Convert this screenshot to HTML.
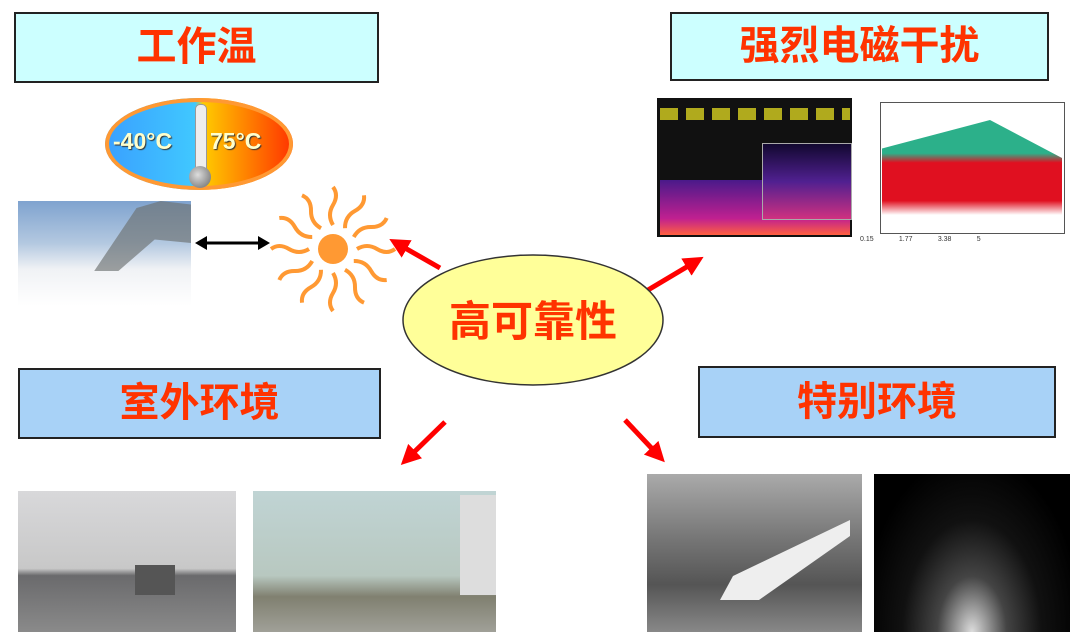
<!DOCTYPE html>
<html><head><meta charset="utf-8"><style>
body{margin:0;width:1080px;height:639px;background:#fff;position:relative;overflow:hidden;font-family:"Liberation Sans","Noto Sans CJK SC",sans-serif}
.a{position:absolute}
.box{position:absolute;border:2px solid #222;box-sizing:border-box;color:#ff3300;font-weight:bold;font-size:40px;text-align:center;font-family:"Liberation Sans","Noto Sans CJK SC",sans-serif}
</style></head><body>
<div class="box" style="left:14px;top:12px;width:365px;height:71px;background:#ccffff;line-height:67px">工作温</div>
<div class="box" style="left:670px;top:12px;width:379px;height:69px;background:#ccffff;line-height:65px">强烈电磁干扰</div>
<div class="box" style="left:18px;top:368px;width:363px;height:71px;background:#a8d2f7;line-height:67px">室外环境</div>
<div class="box" style="left:698px;top:366px;width:358px;height:72px;background:#a8d2f7;line-height:68px">特别环境</div>

<div class="a" style="left:105px;top:98px;width:188px;height:92px;border-radius:50%;background:linear-gradient(90deg,#3aa0ff 0%,#40c8ff 48%,#ffcc00 52%,#ff3300 100%);box-shadow:0 0 0 4px #ff9933 inset"></div>
<div class="a" style="left:113px;top:128px;font-weight:bold;font-size:23px;color:#ffffcc;text-shadow:1px 1px 1px #333">-40°C</div>
<div class="a" style="left:210px;top:128px;font-weight:bold;font-size:23px;color:#ffffcc;text-shadow:1px 1px 1px #333">75°C</div>
<div class="a" style="left:195px;top:104px;width:10px;height:70px;background:#eee;border:1px solid #999;border-radius:5px"></div>
<div class="a" style="left:189px;top:166px;width:22px;height:22px;background:radial-gradient(circle at 40% 40%,#ddd,#666);border-radius:50%"></div>

<div class="a" style="left:18px;top:201px;width:173px;height:105px;background:linear-gradient(180deg,#7fa3cf 0%,#b3c8e0 40%,#f0f2f5 65%,#fff 100%)"></div>
<div class="a" style="left:70px;top:201px;width:121px;height:70px;background:#6c7070;clip-path:polygon(20% 100%,55% 10%,75% 0,100% 5%,100% 60%,70% 55%,40% 100%);opacity:.65"></div>

<svg class="a" style="left:0;top:0" width="1080" height="639">
<defs><marker id="r" markerWidth="4" markerHeight="4" refX="2" refY="2" orient="auto"><path d="M0,0L4,2L0,4z" fill="#f00"/></marker></defs>
<line x1="205" y1="243" x2="260" y2="243" stroke="#000" stroke-width="3"/>
<path d="M195,243L207,236L207,250z M270,243L258,236L258,250z" fill="#000"/>
<g stroke="#ff0000" stroke-width="5" marker-end="url(#r)">
<line x1="440" y1="268" x2="398" y2="244"/>
<line x1="648" y1="290" x2="695" y2="262"/>
<line x1="445" y1="422" x2="408" y2="458"/>
<line x1="625" y1="420" x2="658" y2="455"/>
</g>
<g fill="none" stroke="#ff9933" stroke-width="4">
<circle cx="333" cy="249" r="15" fill="#ff9933" stroke="none"/>
<g id="rays"><path d="M333,225 q-6,-10 0,-20 q6,-10 0,-18"/></g>
<use href="#rays" transform="rotate(30 333 249)"/><use href="#rays" transform="rotate(60 333 249)"/><use href="#rays" transform="rotate(90 333 249)"/><use href="#rays" transform="rotate(120 333 249)"/><use href="#rays" transform="rotate(150 333 249)"/><use href="#rays" transform="rotate(180 333 249)"/><use href="#rays" transform="rotate(210 333 249)"/><use href="#rays" transform="rotate(240 333 249)"/><use href="#rays" transform="rotate(270 333 249)"/><use href="#rays" transform="rotate(300 333 249)"/><use href="#rays" transform="rotate(330 333 249)"/>
</g>
<ellipse cx="533" cy="320" rx="130" ry="65" fill="#ffff99" stroke="#333" stroke-width="1.5"/>
<text x="533" y="336" text-anchor="middle" font-size="42" font-weight="bold" fill="#ff3300" font-family="Liberation Sans,Noto Sans CJK SC,sans-serif">高可靠性</text>
</svg>

<div class="a" style="left:657px;top:98px;width:195px;height:139px;background:#111"></div>
<div class="a" style="left:660px;top:108px;width:190px;height:30px;background:repeating-linear-gradient(90deg,#d8d020 0 18px,#111 18px 26px);opacity:.8;clip-path:inset(0 0 60% 0)"></div>
<div class="a" style="left:660px;top:180px;width:190px;height:55px;background:linear-gradient(180deg,#4a1a8a,#c02090 70%,#ff6040)"></div>
<div class="a" style="left:762px;top:143px;width:88px;height:75px;background:linear-gradient(180deg,#120830,#502090 50%,#d03080);border:1px solid #aaa"></div>
<div class="a" style="left:880px;top:102px;width:183px;height:130px;border:1px solid #555;background:#fff"></div>
<div class="a" style="left:882px;top:120px;width:180px;height:95px;background:linear-gradient(180deg,#2cb08a 0%,#2cb08a 35%,#e01020 45%,#e01020 85%,#fff 100%);clip-path:polygon(0 30%,40% 10%,60% 0,100% 40%,100% 100%,0 100%)"></div>
<div class="a" style="left:860px;top:236px;width:210px;font-size:7px;color:#333">0.15 &nbsp;&nbsp;&nbsp;&nbsp;&nbsp;&nbsp;&nbsp;&nbsp;&nbsp;&nbsp;&nbsp; 1.77 &nbsp;&nbsp;&nbsp;&nbsp;&nbsp;&nbsp;&nbsp;&nbsp;&nbsp;&nbsp;&nbsp; 3.38 &nbsp;&nbsp;&nbsp;&nbsp;&nbsp;&nbsp;&nbsp;&nbsp;&nbsp;&nbsp;&nbsp; 5</div>

<div class="a" style="left:18px;top:491px;width:218px;height:141px;background:linear-gradient(180deg,#d8d8da 0%,#c8c8c8 55%,#6a6a6c 60%,#8a8a8a 100%)"></div>
<div class="a" style="left:135px;top:565px;width:40px;height:30px;background:#555"></div>
<div class="a" style="left:253px;top:491px;width:243px;height:141px;background:linear-gradient(180deg,#c0d4d4 0%,#b8c8c0 60%,#808070 75%,#a0a098 100%)"></div>
<div class="a" style="left:460px;top:495px;width:36px;height:100px;background:#ddd"></div>
<div class="a" style="left:647px;top:474px;width:215px;height:158px;background:linear-gradient(180deg,#aaa 0%,#777 40%,#555 70%,#888 100%)"></div>
<div class="a" style="left:720px;top:520px;width:130px;height:80px;background:#eee;clip-path:polygon(0 100%,10% 70%,100% 0,100% 20%,30% 100%)"></div>
<div class="a" style="left:874px;top:474px;width:196px;height:158px;background:radial-gradient(ellipse at 50% 100%,#ddd 0%,#444 25%,#111 50%,#000 80%)"></div>
</body></html>
